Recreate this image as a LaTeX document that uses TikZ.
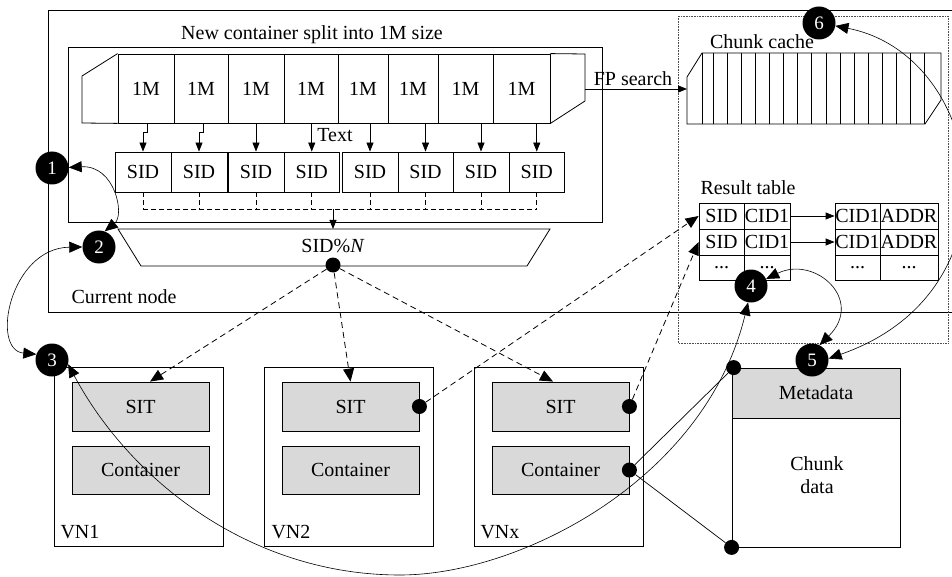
\documentclass[tikz,border=0pt]{standalone}
\usepackage{fontspec}
\setmainfont{Liberation Serif}
\usetikzlibrary{arrows.meta,calc}
\definecolor{boxgray}{RGB}{217,217,217}
\begin{document}
\begin{tikzpicture}[x=1pt,y=-1pt,
  every node/.style={font=\fontsize{20}{23}\selectfont},
  box/.style={draw, inner sep=0pt, line width=0.8pt},
  mblk/.style={box, minimum height=69pt},
  sidbox/.style={box, minimum height=40pt},
  graybox/.style={box, fill=boxgray},
  cell/.style={box, minimum height=26pt},
  num/.style={circle, fill=black, text=white, minimum size=33pt, inner sep=0pt, font=\fontsize{19}{20}\selectfont},
  dot/.style={circle, fill=black, minimum size=15pt, inner sep=0pt},
  sarr/.style={-{Triangle[length=9pt,width=7pt]}, line width=0.8pt},
  darr/.style={-{Triangle[length=13pt,width=11pt]}, line width=0.8pt, dash pattern=on 6pt off 4pt},
  curv/.style={{Triangle[length=13pt,width=11pt]}-{Triangle[length=13pt,width=11pt]}, line width=0.6pt},
  thin/.style={line width=0.8pt}]
\useasboundingbox (0,0) rectangle (952,577);
\clip (0,0) rectangle (952,577);

% current node outline
\draw[thin] (960,10) -| (48,312) -- (960,312);
\node[anchor=west] (curnode) at (68,297) {Current node};

% inner container box
\node[box, minimum width=534pt, minimum height=175pt] (inner) at (335,134.5) {};
\node (title) at (312,35) {New container split into 1M size};

% 1M band
\foreach \l/\r [count=\i] in {118/174,174/228,228/284,284/338,338/388,388/438,438/493,493/550}
  \node[mblk, minimum width={(\r-\l)*1pt}] (m\i) at ({(\l+\r)/2},88.5) {1M};
\draw[thin] (m1.north west) -- (82,76) -- (82,123) -- (m1.south west);
\draw[thin] (m8.north east) -- (585,54) -- (585,101) -- (m8.south east);

% SID boxes
\foreach \l/\r [count=\i] in {115/171,171/227,228/284,284/339.5,342/398,398/453,453/509,509/564.5}
  \node[sidbox, minimum width={(\r-\l)*1pt}] (s\i) at ({(\l+\r)/2},172) {SID};

% arrows 1M -> SID
\draw[sarr] (m1.south) ++(1,0) -- ++(0,9) -| (s1.north);
\draw[sarr] (m2.south) ++(2,0) -- ++(0,9) -| (s2.north);
\foreach \i in {3,...,8}
  \draw[sarr] (s\i.north |- m1.south) -- (s\i.north);
\node (txt) at (335,135) {Text};

% dashed collection bus
\coordinate (bus) at (333,209);
\foreach \i in {1,...,8}
  \draw[thin, dash pattern=on 5pt off 3pt] (s\i.south) -- (s\i.south |- bus);
\draw[thin, dash pattern=on 5pt off 3pt] (s1.south |- bus) -- (s8.south |- bus);

% SID % N trapezoid
\draw[thin] (118,229) -- (550,229) -- (527,266) -- (141,266) -- cycle;
\coordinate (modtop) at (333,229);
\draw[sarr] (bus) -- (modtop);
\node (mod) at (333,246) {SID\%\textit{N}};
\node[dot] (d0) at (333,265) {};

% chunk cache region
\draw[densely dotted, line width=0.6pt, black!70] (678,16) rectangle (948,343);
\node (cclabel) at (762,42) {Chunk cache};
\draw[thin] (702,53) -- (687,77) -- (687,124) -- (925,124) -- (941,100) -- (941,53) -- cycle;
\draw[thin] (702,53) -- (702,124);
\draw[thin] (713,53) -- (713,124);
\foreach \k in {0,...,14}
  \draw[thin] ({727+14.13*\k},53) -- ++(0,71);
\coordinate (bandR) at (585,89);
\coordinate (ccL) at (687,89);
\draw[sarr] (bandR) -- (ccL);
\node (fp) at (633,79) {FP search};

% result table
\node (rtlabel) at (748,188) {Result table};
\node[cell, minimum width=45pt] (r11) at (721.5,216) {SID};
\node[cell, minimum width=46pt] (r12) at (767,216) {CID1};
\node[cell, minimum width=45pt] (r21) at (721.5,242) {SID};
\node[cell, minimum width=46pt] (r22) at (767,242) {CID1};
\node[cell, minimum width=45pt, minimum height=25pt] (r31) at (721.5,267.5) {...};
\node[cell, minimum width=46pt, minimum height=25pt] (r32) at (767,267.5) {...};
\node[cell, minimum width=45pt] (t11) at (857.5,216) {CID1};
\node[cell, minimum width=58pt] (t12) at (909,216) {ADDR};
\node[cell, minimum width=45pt] (t21) at (857.5,242) {CID1};
\node[cell, minimum width=58pt] (t22) at (909,242) {ADDR};
\node[cell, minimum width=45pt, minimum height=25pt] (t31) at (857.5,267.5) {...};
\node[cell, minimum width=58pt, minimum height=25pt] (t32) at (909,267.5) {...};
\draw[sarr] (r12.east) -- (t11.west);
\draw[sarr] (r22.east) -- (t21.west);

% virtual nodes
\foreach \cx/\nm/\lx in {138.5/1/57, 349/2/268, 559/x/477} {
  \node[box, minimum width=169pt, minimum height=179pt] (vn\nm) at (\cx,456.5) {};
  \node[anchor=west] (vnl\nm) at (\lx,532) {VN\nm};
}
\node[graybox, minimum width=137pt, minimum height=49pt] (sit1) at (140.5,406.5) {SIT};
\node[graybox, minimum width=137pt, minimum height=48pt] (cont1) at (140.5,470) {Container};
\node[graybox, minimum width=137pt, minimum height=49pt] (sit2) at (350.5,406.5) {SIT};
\node[graybox, minimum width=137pt, minimum height=48pt] (cont2) at (350.5,470) {Container};
\node[graybox, minimum width=137pt, minimum height=49pt] (sit3) at (560.5,406.5) {SIT};
\node[graybox, minimum width=137pt, minimum height=48pt] (cont3) at (560.5,470) {Container};

% chunk storage box
\node[box, minimum width=168pt, minimum height=179pt] (chunk) at (816,457.5) {};
\node[graybox, minimum width=168pt, minimum height=50pt] (meta) at (816,393) {Metadata};
\node[align=center] (cdata) at (817,475) {Chunk\\data};

% dots
\node[dot] (dS2) at (sit2.east) {};
\node[dot] (dS3) at (sit3.east) {};
\node[dot] (dC3) at (cont3.east) {};
\node[dot] (dM) at ($(chunk.north west)+(2,0)$) {};
\node[dot] (dB) at (chunk.south west) {};

% solid links container -> chunk box
\draw[line width=0.7pt] (dC3) -- (dM);
\draw[line width=0.7pt] (dC3) -- (dB);

% dashed distribution arrows
\draw[darr] (d0) -- ($(sit1.north)+(9.5,0)$);
\draw[darr] (d0) -- (sit2.north);
\draw[darr] (d0) -- ($(sit3.north)+(-7.5,0)$);
\draw[darr] (dS2) -- (r11.west);
\draw[darr] (dS3) -- (r21.west);

% numbered step circles
\node[num] (c1) at (52,168) {1};
\node[num] (c2) at (99,247) {2};
\node[num] (c3) at (52,360) {3};
\node[num] (c4) at (751,286) {4};
\node[num] (c5) at (812,360) {5};
\node[num] (c6) at (819,23) {6};

\draw[curv] (c1.2) .. controls (115,165) and (125,215) .. (c2.70);
\draw[curv] (c2.180) .. controls (10,248) and (-10,350) .. (c3.160);
\draw[curv] (c4.260) .. controls (705,480) and (520,575) .. (400,575)
   .. controls (250,575) and (130,480) .. (c3.-15);
\draw[curv] (c4.25) .. controls (815,255) and (865,300) .. (c5.63);
\draw[curv] (c6.-10) .. controls (985,55) and (1025,290) .. (c5.5);
\end{tikzpicture}
\end{document}
